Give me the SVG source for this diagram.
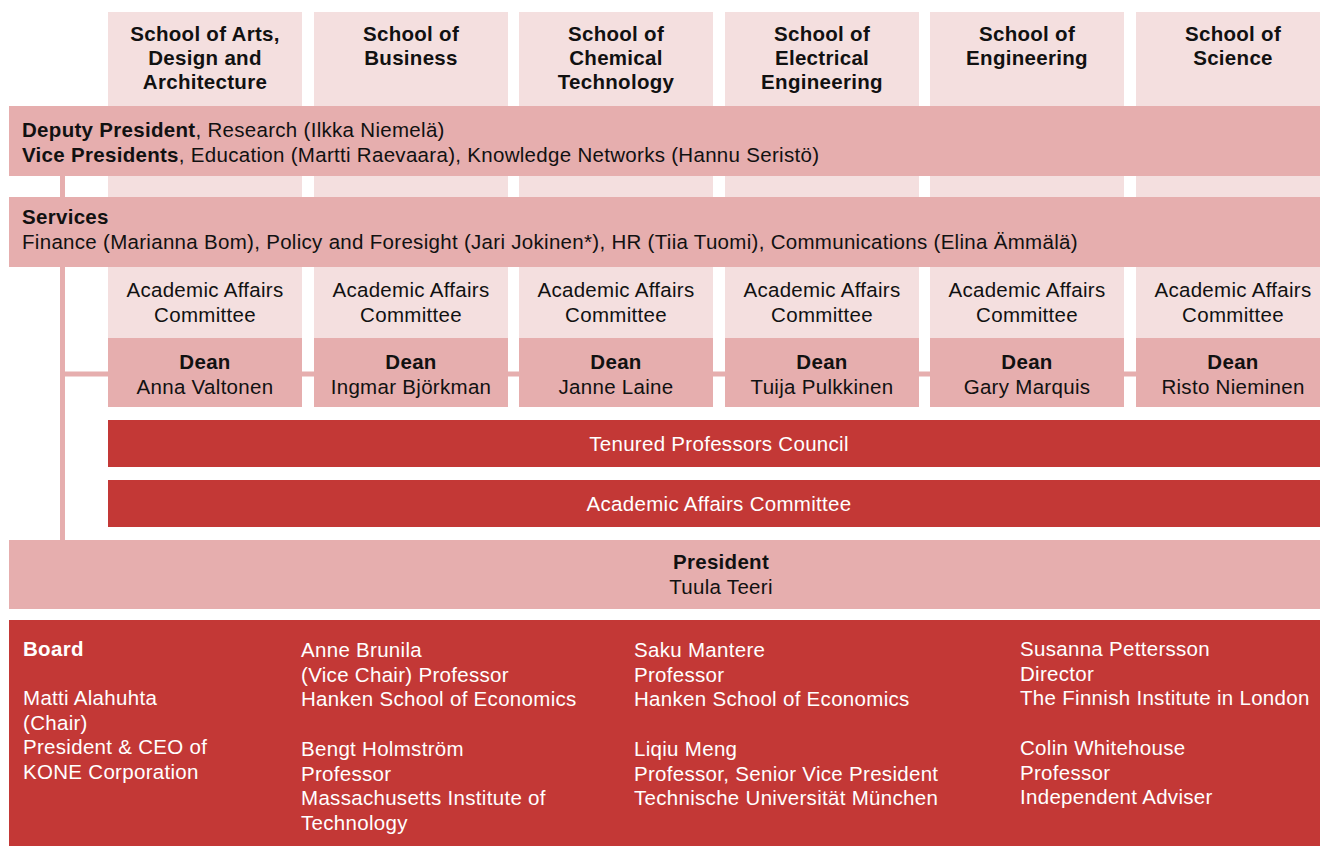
<svg xmlns="http://www.w3.org/2000/svg" width="1320" height="846" viewBox="0 0 1320 846">
<style>
.light{fill:#f4dfdf}
.mid{fill:#e6aeae}
.red{fill:#c33836}
text{font-family:"Liberation Sans",Arial,sans-serif;font-size:20.5px;letter-spacing:0.3px;fill:#111}
.b{font-weight:bold}
.c{text-anchor:middle}
.w{fill:#fff}
.conn{stroke:#e6aeae;stroke-width:5;fill:none}
</style>
<rect width="1320" height="846" fill="#fff"/>
<g id="connectors">
<line class="conn" x1="62.5" y1="170" x2="62.5" y2="545"/>
<line class="conn" x1="62.5" y1="374" x2="1320" y2="374"/>
</g>
<g id="school-columns">
<rect class="light" x="108" y="12" width="194" height="326"/>
<rect class="light" x="314" y="12" width="194" height="326"/>
<rect class="light" x="519" y="12" width="194" height="326"/>
<rect class="light" x="725" y="12" width="194" height="326"/>
<rect class="light" x="930" y="12" width="194" height="326"/>
<rect class="light" x="1136" y="12" width="194" height="326"/>
</g>
<g id="school-arts">
<text class="b c" x="205" y="41">School of Arts,</text>
<text class="b c" x="205" y="65">Design and</text>
<text class="b c" x="205" y="89">Architecture</text>
</g>
<g id="school-business">
<text class="b c" x="411" y="41">School of</text>
<text class="b c" x="411" y="65">Business</text>
</g>
<g id="school-chemical">
<text class="b c" x="616" y="41">School of</text>
<text class="b c" x="616" y="65">Chemical</text>
<text class="b c" x="616" y="89">Technology</text>
</g>
<g id="school-electrical">
<text class="b c" x="822" y="41">School of</text>
<text class="b c" x="822" y="65">Electrical</text>
<text class="b c" x="822" y="89">Engineering</text>
</g>
<g id="school-engineering">
<text class="b c" x="1027" y="41">School of</text>
<text class="b c" x="1027" y="65">Engineering</text>
</g>
<g id="school-science">
<text class="b c" x="1233" y="41">School of</text>
<text class="b c" x="1233" y="65">Science</text>
</g>
<g id="vice-presidents">
<rect class="mid" x="9" y="106" width="1311" height="70"/>
<text x="22" y="137"><tspan class="b">Deputy President</tspan>, Research (Ilkka Niemelä)</text>
<text x="22" y="162"><tspan class="b">Vice Presidents</tspan>, Education (Martti Raevaara), Knowledge Networks (Hannu Seristö)</text>
</g>
<g id="services">
<rect class="mid" x="9" y="197" width="1311" height="70"/>
<text class="b" x="22" y="224">Services</text>
<text x="22" y="249">Finance (Marianna Bom), Policy and Foresight (Jari Jokinen*), HR (Tiia Tuomi), Communications (Elina Ämmälä)</text>
</g>
<g id="aac-schools">
<text class="c" x="205" y="297">Academic Affairs</text><text class="c" x="205" y="322">Committee</text>
<text class="c" x="411" y="297">Academic Affairs</text><text class="c" x="411" y="322">Committee</text>
<text class="c" x="616" y="297">Academic Affairs</text><text class="c" x="616" y="322">Committee</text>
<text class="c" x="822" y="297">Academic Affairs</text><text class="c" x="822" y="322">Committee</text>
<text class="c" x="1027" y="297">Academic Affairs</text><text class="c" x="1027" y="322">Committee</text>
<text class="c" x="1233" y="297">Academic Affairs</text><text class="c" x="1233" y="322">Committee</text>
</g>
<g id="dean-arts">
<rect class="mid" x="108" y="338" width="194" height="69"/>
<text class="b c" x="205" y="369">Dean</text><text class="c" x="205" y="394">Anna Valtonen</text>
</g>
<g id="dean-business">
<rect class="mid" x="314" y="338" width="194" height="69"/>
<text class="b c" x="411" y="369">Dean</text><text class="c" x="411" y="394">Ingmar Björkman</text>
</g>
<g id="dean-chemical">
<rect class="mid" x="519" y="338" width="194" height="69"/>
<text class="b c" x="616" y="369">Dean</text><text class="c" x="616" y="394">Janne Laine</text>
</g>
<g id="dean-electrical">
<rect class="mid" x="725" y="338" width="194" height="69"/>
<text class="b c" x="822" y="369">Dean</text><text class="c" x="822" y="394">Tuija Pulkkinen</text>
</g>
<g id="dean-engineering">
<rect class="mid" x="930" y="338" width="194" height="69"/>
<text class="b c" x="1027" y="369">Dean</text><text class="c" x="1027" y="394">Gary Marquis</text>
</g>
<g id="dean-science">
<rect class="mid" x="1136" y="338" width="194" height="69"/>
<text class="b c" x="1233" y="369">Dean</text><text class="c" x="1233" y="394">Risto Nieminen</text>
</g>
<g id="tenured-council">
<rect class="red" x="108" y="420" width="1212" height="47"/>
<text class="c w" x="719" y="451">Tenured Professors Council</text>
</g>
<g id="academic-affairs">
<rect class="red" x="108" y="480" width="1212" height="47"/>
<text class="c w" x="719" y="511">Academic Affairs Committee</text>
</g>
<g id="president">
<rect class="mid" x="9" y="540" width="1311" height="69"/>
<text class="b c" x="721" y="569">President</text>
<text class="c" x="721" y="594">Tuula Teeri</text>
</g>
<g id="board">
<rect class="red" x="9" y="620" width="1311" height="226"/>
<text class="b w" x="23" y="656">Board</text>
<text class="w" x="23" y="705">Matti Alahuhta</text>
<text class="w" x="23" y="730">(Chair)</text>
<text class="w" x="23" y="754">President &amp; CEO of</text>
<text class="w" x="23" y="779">KONE Corporation</text>
<text class="w" x="301" y="657">Anne Brunila</text>
<text class="w" x="301" y="682">(Vice Chair) Professor</text>
<text class="w" x="301" y="706">Hanken School of Economics</text>
<text class="w" x="301" y="756">Bengt Holmström</text>
<text class="w" x="301" y="781">Professor</text>
<text class="w" x="301" y="805">Massachusetts Institute of</text>
<text class="w" x="301" y="830">Technology</text>
<text class="w" x="634" y="657">Saku Mantere</text>
<text class="w" x="634" y="682">Professor</text>
<text class="w" x="634" y="706">Hanken School of Economics</text>
<text class="w" x="634" y="756">Liqiu Meng</text>
<text class="w" x="634" y="781">Professor, Senior Vice President</text>
<text class="w" x="634" y="805">Technische Universität München</text>
<text class="w" x="1020" y="656">Susanna Pettersson</text>
<text class="w" x="1020" y="681">Director</text>
<text class="w" x="1020" y="705">The Finnish Institute in London</text>
<text class="w" x="1020" y="755">Colin Whitehouse</text>
<text class="w" x="1020" y="780">Professor</text>
<text class="w" x="1020" y="804">Independent Adviser</text>
</g>
</svg>
